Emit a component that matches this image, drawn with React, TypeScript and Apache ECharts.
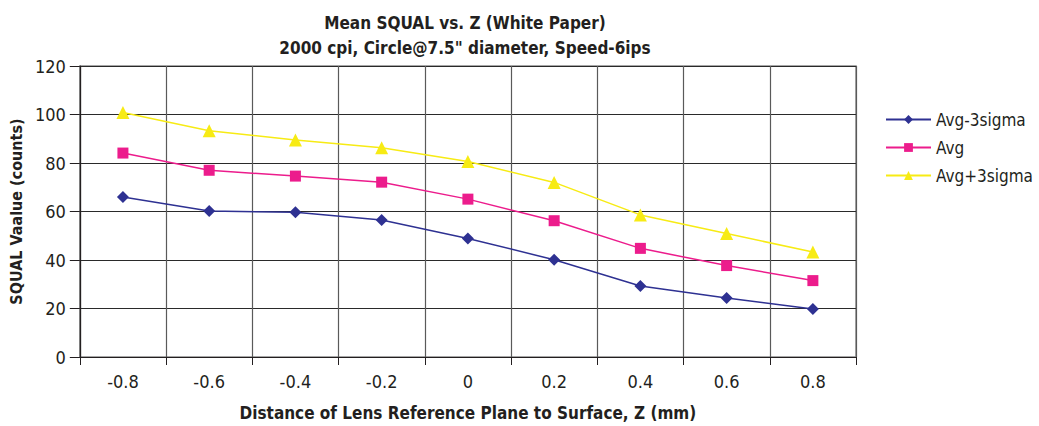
import React, { useEffect, useRef } from "react";
import * as echarts from "echarts";

const categories = ["-0.8", "-0.6", "-0.4", "-0.2", "0", "0.2", "0.4", "0.6", "0.8"];
const avgMinus3Sigma = [66, 60.2, 59.7, 56.5, 48.9, 40.1, 29.3, 24.3, 19.8];
const avg = [84.1, 77, 74.6, 72.1, 65.1, 56.2, 44.8, 37.7, 31.5];
const avgPlus3Sigma = [100.8, 93.3, 89.5, 86.3, 80.6, 72, 58.6, 50.9, 43.3];
const yTicks = [0, 20, 40, 60, 80, 100, 120];

const FONT = "'DejaVu Sans Condensed', 'Liberation Sans Narrow', sans-serif";

export default function App() {
  const ref = useRef<HTMLDivElement>(null);
  useEffect(() => {
    document.body.style.margin = "0";
    if (!ref.current) return;
    const chart = echarts.init(ref.current, undefined, { renderer: "svg" });
    chart.setOption({
      animation: false,
      backgroundColor: "#ffffff",
      textStyle: { fontFamily: FONT },
      title: {
        text: "Mean SQUAL vs. Z (White Paper)\n2000 cpi, Circle@7.5\" diameter, Speed-6ips",
        left: 460,
        top: 5,
        textAlign: "center",
        textStyle: {
          fontFamily: FONT,
          fontWeight: "bold",
          fontSize: 17,
          lineHeight: 25,
          color: "#231f20",
        },
      },
      legend: {
        orient: "vertical",
        left: 880,
        top: 106,
        itemWidth: 45,
        itemHeight: 11,
        itemGap: 11,
        textStyle: { fontFamily: FONT, fontSize: 17, color: "#231f20" },
        data: ["Avg-3sigma", "Avg", "Avg+3sigma"],
      },
      grid: {
        left: 73,
        right: 183,
        top: 66,
        bottom: 65,
        show: true,
        borderColor: "#8a8a8a",
        borderWidth: 1.5,
      },
      xAxis: {
        type: "category",
        data: categories,
        boundaryGap: true,
        name: "Distance of Lens Reference Plane to Surface, Z (mm)",
        nameLocation: "middle",
        nameGap: 47,
        nameTextStyle: { fontFamily: FONT, fontWeight: "bold", fontSize: 17, color: "#231f20" },
        axisLine: { lineStyle: { color: "#231f20", width: 1.2 } },
        axisTick: { show: true, length: 8, lineStyle: { color: "#231f20" } },
        axisLabel: { fontFamily: FONT, fontSize: 18, color: "#231f20", margin: 15 },
        splitLine: { show: true, lineStyle: { color: "#5a5a5a", width: 1.2 } },
      },
      yAxis: {
        type: "value",
        min: 0,
        max: 120,
        interval: 20,
        name: "SQUAL Vaalue (counts)",
        nameLocation: "middle",
        nameGap: 47,
        nameTextStyle: { fontFamily: FONT, fontWeight: "bold", fontSize: 16, color: "#231f20" },
        axisLine: { show: true, lineStyle: { color: "#231f20", width: 1.2 } },
        axisTick: { show: true, length: 10, lineStyle: { color: "#231f20" } },
        axisLabel: {
          fontFamily: FONT,
          fontSize: 18,
          color: "#231f20",
          margin: 14,
          formatter: (v: number) => (yTicks.includes(v) ? String(v) : ""),
        },
        splitLine: { show: true, lineStyle: { color: "#2a2a2a", width: 1.2 } },
      },
      series: [
        {
          name: "Avg-3sigma",
          type: "line",
          data: avgMinus3Sigma,
          symbol: "diamond",
          symbolSize: 12,
          color: "#2e3192",
          lineStyle: { width: 1.5, color: "#2e3192" },
          itemStyle: { color: "#2e3192" },
        },
        {
          name: "Avg",
          type: "line",
          data: avg,
          symbol: "rect",
          symbolSize: 11,
          color: "#ec1c8c",
          lineStyle: { width: 1.5, color: "#ec1c8c" },
          itemStyle: { color: "#ec1c8c" },
        },
        {
          name: "Avg+3sigma",
          type: "line",
          data: avgPlus3Sigma,
          symbol: "triangle",
          symbolSize: 13,
          color: "#f7eb14",
          lineStyle: { width: 1.5, color: "#f7eb14" },
          itemStyle: { color: "#f7eb14" },
        },
      ],
    });
    return () => chart.dispose();
  }, []);
  return <div ref={ref} style={{ width: 1039, height: 426 }} />;
}
